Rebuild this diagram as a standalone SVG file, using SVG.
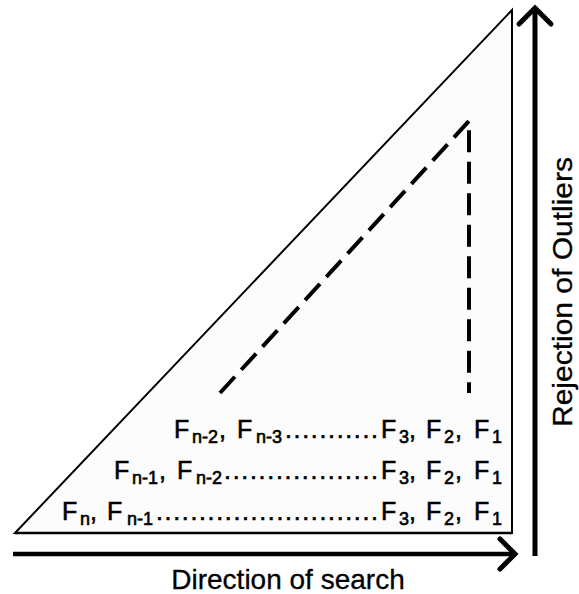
<svg xmlns="http://www.w3.org/2000/svg" width="579" height="594" viewBox="0 0 579 594">
<style>
.t{font-family:"Liberation Sans",Arial,sans-serif;fill:#000;stroke:#000;stroke-width:0.6}
.f{font-size:25px}
.s{font-size:18px}
.lbl{font-family:"Liberation Sans",Arial,sans-serif;font-size:28px;fill:#000;stroke:#000;stroke-width:0.3}
.ln{fill:none;stroke:#000}
.dash{fill:none;stroke:#000;stroke-width:4;stroke-dasharray:22 9.5}
</style>
<rect width="579" height="594" fill="#fff"/>
<g id="triangle">
<polygon points="15,533 512,10 512,533" fill="#fcfcfc" stroke="#000" stroke-width="2"/>
<line x1="15" y1="533" x2="512" y2="533" stroke="#000" stroke-width="2.5"/>
</g>
<g id="connectors">
<polyline class="dash" points="220,393 469,121 469,393"/>
<line class="ln" x1="13" y1="554" x2="513" y2="554" stroke-width="4.5"/>
<polyline class="ln" points="500,539 515,554 500,569" stroke-width="5" stroke-linecap="round" stroke-linejoin="miter"/>
<line class="ln" x1="535" y1="556" x2="535" y2="9" stroke-width="5"/>
<polyline class="ln" points="519,24 535,8 551,24" stroke-width="5" stroke-linecap="round"/>
</g>
<g id="row1">
<text class="t f" y="438"><tspan x="174">F</tspan><tspan class="s" x="192" y="443">n-2</tspan><tspan x="219" y="438">,</tspan><tspan x="237">F</tspan><tspan class="s" x="256" y="443">n-3</tspan></text>
<text class="t f" x="285" y="438" textLength="93" lengthAdjust="spacing">...........</text>
<text class="t f" y="438"><tspan x="381">F</tspan><tspan class="s" x="399" y="443">3</tspan><tspan x="409" y="438">,</tspan><tspan x="426">F</tspan><tspan class="s" x="444" y="443">2</tspan><tspan x="455" y="438">,</tspan><tspan x="474">F</tspan><tspan class="s" x="492" y="443">1</tspan></text>
</g>
<g id="row2">
<text class="t f" y="479"><tspan x="114">F</tspan><tspan class="s" x="132" y="484">n-1</tspan><tspan x="159" y="479">,</tspan><tspan x="177">F</tspan><tspan class="s" x="196" y="484">n-2</tspan></text>
<text class="t f" x="224" y="479" textLength="154" lengthAdjust="spacing">..................</text>
<text class="t f" y="479"><tspan x="381">F</tspan><tspan class="s" x="399" y="484">3</tspan><tspan x="409" y="479">,</tspan><tspan x="426">F</tspan><tspan class="s" x="444" y="484">2</tspan><tspan x="455" y="479">,</tspan><tspan x="474">F</tspan><tspan class="s" x="492" y="484">1</tspan></text>
</g>
<g id="row3">
<text class="t f" y="520"><tspan x="62">F</tspan><tspan class="s" x="80" y="525">n</tspan><tspan x="90" y="520">,</tspan><tspan x="107">F</tspan><tspan class="s" x="127" y="525">n-1</tspan></text>
<text class="t f" x="156" y="520" textLength="222" lengthAdjust="spacing">..........................</text>
<text class="t f" y="520"><tspan x="381">F</tspan><tspan class="s" x="399" y="525">3</tspan><tspan x="409" y="520">,</tspan><tspan x="426">F</tspan><tspan class="s" x="444" y="525">2</tspan><tspan x="455" y="520">,</tspan><tspan x="474">F</tspan><tspan class="s" x="492" y="525">1</tspan></text>
</g>
<g id="label-x">
<text class="lbl" x="288" y="589" text-anchor="middle">Direction of search</text>
</g>
<g id="label-y">
<text class="lbl" x="0" y="0" text-anchor="middle" font-size="27" textLength="270" lengthAdjust="spacingAndGlyphs" transform="translate(572,292) rotate(-90)">Rejection of Outliers</text>
</g>
</svg>
